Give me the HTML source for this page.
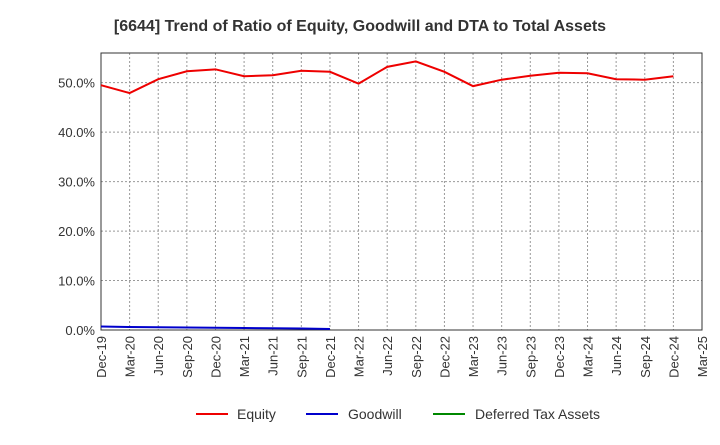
<!DOCTYPE html>
<html><head><meta charset="utf-8"><style>
body{margin:0;background:#fff;font-family:"Liberation Sans",sans-serif}
</style></head><body>
<svg id="c" width="720" height="440" xmlns="http://www.w3.org/2000/svg">
<text x="360" y="31" text-anchor="middle" font-size="16" font-weight="bold" fill="#333">[6644]  Trend of Ratio of Equity, Goodwill and DTA to Total Assets</text>
<g id="grid"></g><g id="axes"></g><g id="series"></g>
<g>
<line x1="196" y1="414" x2="228" y2="414" stroke="#e00" stroke-width="2"/><text x="237" y="419" font-size="14" fill="#333">Equity</text>
<line x1="306" y1="414" x2="338" y2="414" stroke="#00c" stroke-width="2"/><text x="348" y="419" font-size="14" fill="#333">Goodwill</text>
<line x1="433" y1="414" x2="465" y2="414" stroke="#080" stroke-width="2"/><text x="475" y="419" font-size="14" fill="#333">Deferred Tax Assets</text>
</g>
</svg>
<script>
const categories=["Dec-19","Mar-20","Jun-20","Sep-20","Dec-20","Mar-21","Jun-21","Sep-21","Dec-21","Mar-22","Jun-22","Sep-22","Dec-22","Mar-23","Jun-23","Sep-23","Dec-23","Mar-24","Jun-24","Sep-24","Dec-24","Mar-25"];
const equity=[49.5,47.9,50.7,52.3,52.7,51.3,51.5,52.4,52.2,49.8,53.2,54.3,52.2,49.3,50.6,51.4,52.0,51.9,50.7,50.6,51.3];
const goodwill=[0.7,0.6,0.55,0.5,0.45,0.4,0.35,0.3,0.2];
const dta=[];
const yTicks=[0,10,20,30,40,50];
const L=101,R=702,T=53,B=330,yMax=56;
const x=i=>L+i*(R-L)/(categories.length-1);
const y=v=>B-v*(B-T)/yMax;
const NS="http://www.w3.org/2000/svg";
function mk(p,t,a){const e=document.createElementNS(NS,t);for(const k in a)e.setAttribute(k,a[k]);document.getElementById(p).appendChild(e);return e;}
categories.forEach((c,i)=>{
 const g=mk("grid","line",{x1:x(i),x2:x(i),y1:T,y2:B,stroke:"#999","stroke-dasharray":"2,2","stroke-width":1});
 
 
 const t=mk("axes","text",{transform:`translate(${x(i)+5},${B+6}) rotate(-90)`,"text-anchor":"end","font-size":13,fill:"#333"});
 t.textContent=c;
 
 
});
yTicks.forEach(v=>{
 const g=mk("grid","line",{x1:L,x2:R,y1:y(v),y2:y(v),stroke:"#999","stroke-dasharray":"2,2","stroke-width":1});
 
 
 const t=mk("axes","text",{x:L-6,y:y(v)+5,"text-anchor":"end","font-size":13,fill:"#333"});
 t.textContent=v.toFixed(1)+"%";
 
 
});
const f=mk("axes","rect",{x:L,y:T,width:R-L,height:B-T,fill:"none",stroke:"#333","stroke-width":1});


function line(d,col,name){
 if(!d.length)return;
 const p=mk("series","polyline",{points:d.map((v,i)=>x(i)+","+y(v)).join(" "),fill:"none",stroke:col,"stroke-width":2});
 
 
}
line(equity,"#e00","equity-line");
line(goodwill,"#00c","goodwill-line");
line(dta,"#080","dta-line");
</script>
</body></html>
